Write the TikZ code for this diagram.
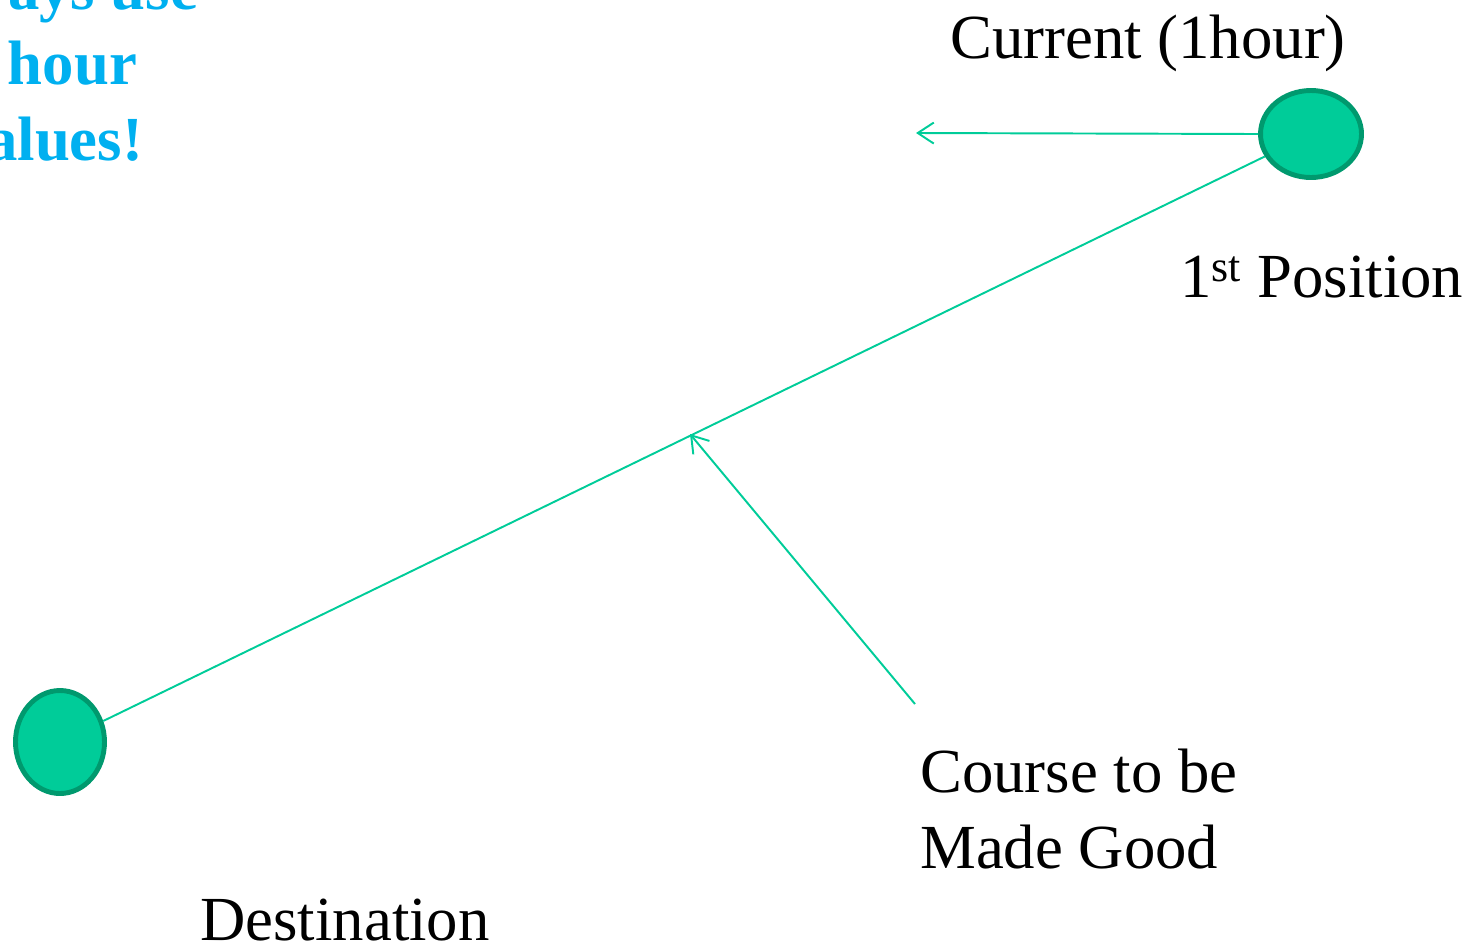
\documentclass[tikz,border=0pt]{standalone}
\usepackage{fontspec}
\setmainfont{Liberation Serif}
\usetikzlibrary{arrows.meta,shapes.geometric}
\definecolor{seagreen}{HTML}{00CC99}
\definecolor{darkseagreen}{HTML}{00996E}
\definecolor{noteblue}{HTML}{00B0F0}
\begin{document}
\begin{tikzpicture}[
        x = .2mm,
        y = -.2mm,
        every node/.style = {inner sep=0pt, font=\fontsize{35.7}{43}\selectfont},
        spot/.style = {ellipse, fill=seagreen, draw=darkseagreen, line width=2.8pt},
        vec/.style = {seagreen, line width=1.1pt},
        tip/.style = {-{Straight Barb[length=3.2mm, width=4.2mm]}}
    ]
        \useasboundingbox (0,0) rectangle (1476,949);
        % positions
        \node[spot, minimum width=20.2mm, minimum height=17.4mm] (pos1) at (1311,134) {};
        \node[spot, minimum width=17.8mm, minimum height=20.6mm] (dest) at (60,742) {};
        \coordinate (drift) at (916,133);
        \coordinate (cmgfoot) at (915,704);
        \coordinate (cmghead) at (690,434);
        % vectors
        \draw[vec, tip] (pos1.west) -- (drift);
        \draw[vec] (pos1) -- (dest);
        \draw[vec, tip] (cmgfoot) -- (cmghead);
        % labels (base of a multi-line node is its last line)
        \node[anchor=base west] (current) at (950,58) {Current (1hour)};
        \node[anchor=base west] (first) at (1180,297) {1\textsuperscript{st} Position};
        \node[anchor=base west, align=left] (course) at (920,868) {Course to be\\Made Good};
        \node[anchor=base west] (destlabel) at (200,940) {Destination};
        \node[anchor=base, align=center, text=noteblue,
            font=\bfseries\fontsize{35.7}{42.7}\selectfont] (note) at (49,160) {Always use\\1 hour\\values!};
    \end{tikzpicture}
\end{document}
